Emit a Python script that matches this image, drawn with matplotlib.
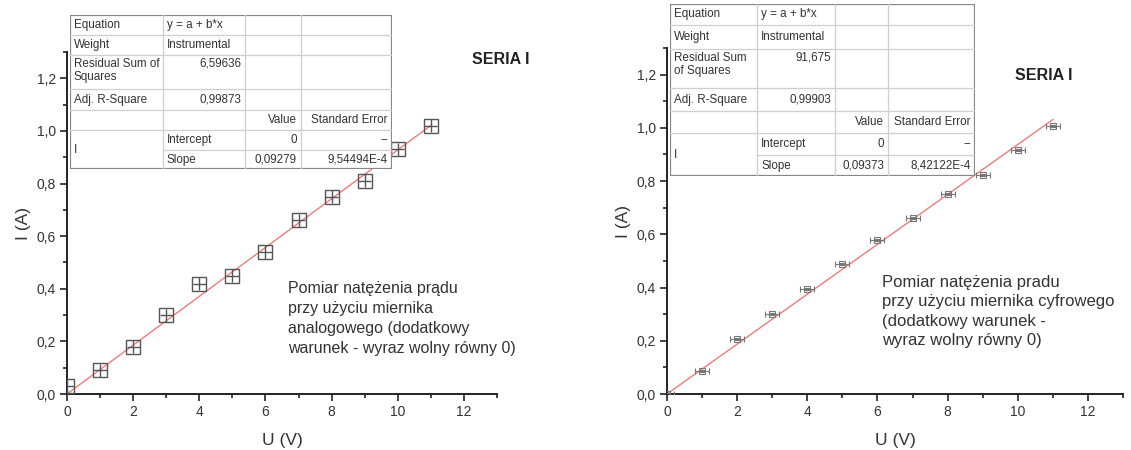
import matplotlib
matplotlib.use("Agg")
import matplotlib.pyplot as plt
from matplotlib.ticker import MultipleLocator, FuncFormatter
import numpy as np

plt.rcParams["font.family"] = ["Liberation Sans", "DejaVu Sans"]

# --- dane ---
u_analog = [0, 1, 2, 3, 4, 5, 6, 7, 8, 9, 10, 11]
i_analog = [0.03, 0.09, 0.18, 0.30, 0.42, 0.45, 0.54, 0.66, 0.75, 0.81, 0.93, 1.02]
u_err_analog = 0.2
i_err_analog = 0.025
slope_analog = 0.09279

u_cyfr = [0, 1, 2, 3, 4, 5, 6, 7, 8, 9, 10, 11]
i_cyfr = [0.0, 0.088, 0.207, 0.30, 0.395, 0.487, 0.58, 0.66, 0.753, 0.824, 0.918, 1.008]
u_err_cyfr = 0.2
i_err_cyfr = 0.004
slope_cyfr = 0.09373

table_analog = [
    ["Equation", "y = a + b*x", "", ""],
    ["Weight", "Instrumental", "", ""],
    ["Residual Sum of\nSquares", "6,59636", "", ""],
    ["Adj. R-Square", "0,99873", "", ""],
    ["", "", "Value", "Standard Error"],
    ["I", "Intercept", "0", "--"],
    ["", "Slope", "0,09279", "9,54494E-4"],
]
table_cyfr = [
    ["Equation", "y = a + b*x", "", ""],
    ["Weight", "Instrumental", "", ""],
    ["Residual Sum\nof Squares", "91,675", "", ""],
    ["Adj. R-Square", "0,99903", "", ""],
    ["", "", "Value", "Standard Error"],
    ["I", "Intercept", "0", "--"],
    ["", "Slope", "0,09373", "8,42122E-4"],
]

note_analog = "Pomiar natężenia prądu\nprzy użyciu miernika\nanalogowego (dodatkowy\nwarunek - wyraz wolny równy 0)"
note_cyfr = "Pomiar natężenia pradu\nprzy użyciu miernika cyfrowego\n(dodatkowy warunek -\nwyraz wolny równy 0)"

W, H = 1131, 450
TXT = "#333333"
fig = plt.figure(figsize=(W / 100, H / 100), dpi=100)


def px_rect(x0, y0, x1, y1):
    # piksele (od góry) -> współrzędne figury
    return [x0 / W, 1 - y1 / H, (x1 - x0) / W, (y1 - y0) / H]


def comma(v, pos):
    return f"{v:.1f}".replace(".", ",")


def setup_axes(ax):
    for s in ["top", "right"]:
        ax.spines[s].set_visible(False)
    for s in ["left", "bottom"]:
        ax.spines[s].set_linewidth(1.4)
        ax.spines[s].set_color("#222222")
    ax.set_xlim(0, 13)
    ax.set_ylim(0, 1.3)
    ax.xaxis.set_major_locator(MultipleLocator(2))
    ax.xaxis.set_minor_locator(MultipleLocator(1))
    ax.yaxis.set_major_locator(MultipleLocator(0.2))
    ax.yaxis.set_minor_locator(MultipleLocator(0.1))
    ax.yaxis.set_major_formatter(FuncFormatter(comma))
    ax.tick_params(which="major", length=5, width=1.2, labelsize=10, colors="#222222",
                   labelcolor=TXT, pad=3)
    ax.tick_params(which="minor", length=3, width=1.2, colors="#222222")
    ax.set_xlabel("U (V)", fontsize=12.5, color=TXT, labelpad=10)
    ax.set_ylabel("I (A)", fontsize=12.5, color=TXT, labelpad=4)


def draw_table(rect_px, cols, rows, cells):
    x0, y0, x1, y1 = rect_px
    tax = fig.add_axes(px_rect(x0, y0, x1, y1))
    tax.set_xlim(x0, x1)
    tax.set_ylim(y1, y0)
    tax.axis("off")
    tax.add_patch(plt.Rectangle((x0, y0), x1 - x0, y1 - y0, facecolor="white",
                                edgecolor="#888888", lw=1.6, zorder=3))
    grid = "#cfcfcf"
    for c in cols[1:-1]:
        tax.plot([c, c], [y0, y1], color=grid, lw=0.9, zorder=4)
    for r_i, r in enumerate(rows[1:-1], start=1):
        # wiersz "I" jest scalony dla Intercept/Slope
        xs = cols[1] if r_i == len(rows) - 2 else x0
        tax.plot([xs, x1], [r, r], color=grid, lw=0.9, zorder=4)
    for ri, row in enumerate(cells):
        for ci, txt in enumerate(row):
            if not txt:
                continue
            top = rows[ri]
            if ci == 0 and ri == len(cells) - 2:
                ty, va = rows[ri + 1], "center"
            elif ri == 2:
                ty, va = top + 3, "top"
            else:
                ty, va = (top + rows[ri + 1]) / 2, "center"
            right = ci >= 2 or (ci == 1 and ri in (2, 3))
            if right:
                tx, ha = cols[ci + 1] - 4, "right"
            else:
                tx, ha = cols[ci] + 4, "left"
            tax.text(tx, ty, txt, ha=ha, va=va, fontsize=8.4, color=TXT, zorder=5,
                     linespacing=1.1)


# --- lewy wykres: miernik analogowy ---
ax1 = fig.add_axes(px_rect(67, 52, 497, 394))
setup_axes(ax1)
xa = np.array(u_analog, dtype=float)
ax1.plot([0, xa.max()], [0, slope_analog * xa.max()], color="#ef7b7b", lw=1.0, zorder=2)
ax1.errorbar(u_analog, i_analog, xerr=u_err_analog, yerr=i_err_analog, fmt="s",
             ms=9.6, mfc="none", mec="#555555", mew=1.0, ecolor="#555555",
             elinewidth=1.0, capsize=0, zorder=3)
fig.text(472 / W, 1 - 60 / H, "SERIA I", fontsize=11.5, fontweight="bold",
         color="#222222", ha="left", va="center")
fig.text(288 / W, 1 - 281 / H, note_analog, fontsize=11.5, color=TXT,
         ha="left", va="top", linespacing=1.42)
draw_table((70, 15, 392, 169), [70, 163, 245, 301, 392],
           [15, 35, 55, 89, 110, 130, 150, 169], table_analog)

# --- prawy wykres: miernik cyfrowy ---
ax2 = fig.add_axes(px_rect(667, 48, 1123, 394))
setup_axes(ax2)
xc = np.array(u_cyfr, dtype=float)
ax2.plot([0, xc.max()], [0, slope_cyfr * xc.max()], color="#ef7b7b", lw=1.0, zorder=2)
ax2.errorbar(u_cyfr, i_cyfr, xerr=u_err_cyfr, yerr=i_err_cyfr, fmt="s",
             ms=4, mfc="none", mec="#777777", mew=0.8, ecolor="#777777",
             elinewidth=0.8, capsize=2, capthick=0.8, zorder=3)
fig.text(1015 / W, 1 - 75 / H, "SERIA I", fontsize=11.5, fontweight="bold",
         color="#222222", ha="left", va="center")
fig.text(882 / W, 1 - 275 / H, note_cyfr, fontsize=12, color=TXT,
         ha="left", va="top", linespacing=1.37)
draw_table((670, 4, 975, 176), [670, 757, 835, 888, 975],
           [4, 25, 49, 88, 111, 133, 155, 176], table_cyfr)

fig.savefig("out.png", dpi=100)
